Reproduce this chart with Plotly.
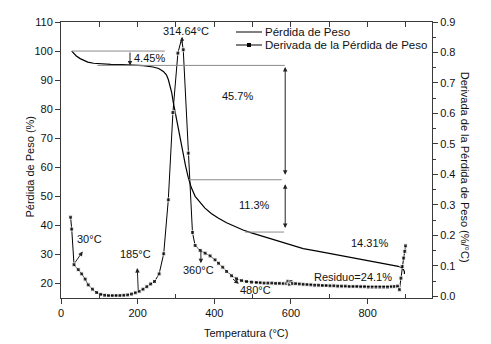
import plotly.graph_objects as go

# ---------------- data ----------------
temp_w = [28, 32, 40, 50, 60, 70, 85, 100, 130, 160, 190, 215, 240, 255, 267, 275, 280, 285,
          289, 293, 300, 306, 312, 319, 325, 332, 340, 350, 362, 375, 392, 410, 432, 454, 475,
          497, 520, 541, 562, 584, 608, 632, 665, 700, 750, 800, 850, 880, 889, 894, 896, 896]
peso = [100.0, 99.3, 98.3, 97.4, 96.7, 96.2, 95.8, 95.6, 95.4, 95.3, 95.2, 95.0, 94.5, 94.0,
        93.0, 91.8, 90.2, 88.0, 85.6, 82.3, 77.5, 73.0, 68.7, 64.0, 60.5, 56.5, 53.0, 50.0,
        47.9, 46.0, 44.1, 42.5, 40.9, 39.6, 38.4, 37.4, 36.5, 35.6, 34.8, 33.9, 33.0, 32.0,
        31.2, 30.3, 29.1, 27.9, 26.7, 25.9, 25.3, 24.7, 24.0, 23.3]

temp_d = [25, 28, 34, 45, 54, 63, 71, 82, 93, 104, 114, 124, 134, 144, 154, 164, 174, 184,
          194, 204, 214, 224, 234, 244, 256, 268, 280, 292, 305, 314.64, 319, 332, 343, 350,
          363, 376, 389, 402, 411, 422, 432, 445, 458, 471, 484, 497, 510, 520, 530, 540, 550,
          560, 570, 580, 588, 592, 596, 600, 604, 612, 622, 632, 642, 652, 662, 672, 682, 692,
          702, 712, 722, 732, 742, 752, 762, 772, 782, 792, 802, 812, 822, 832, 842, 852, 862,
          870, 878, 883, 887, 890, 894, 897, 899]
derivada = [0.260, 0.221, 0.104, 0.088, 0.074, 0.057, 0.038, 0.024, 0.013, 0.007, 0.004,
            0.003, 0.003, 0.003, 0.003, 0.004, 0.005, 0.008, 0.012, 0.017, 0.024, 0.032,
            0.041, 0.049, 0.074, 0.140, 0.317, 0.603, 0.798, 0.845, 0.809, 0.470, 0.210,
            0.167, 0.151, 0.142, 0.133, 0.120, 0.109, 0.096, 0.082, 0.068, 0.058, 0.052,
            0.049, 0.047, 0.046, 0.045, 0.044, 0.044, 0.044, 0.043, 0.043, 0.042, 0.043,
            0.050, 0.040, 0.049, 0.042, 0.042, 0.041, 0.040, 0.039, 0.038, 0.037, 0.037,
            0.036, 0.036, 0.035, 0.035, 0.034, 0.034, 0.034, 0.033, 0.033, 0.033, 0.032,
            0.032, 0.031, 0.031, 0.031, 0.031, 0.031, 0.031, 0.032, 0.033, 0.034, 0.022,
            0.060, 0.098, 0.126, 0.148, 0.166]

x_ticks = [0, 200, 400, 600, 800]
y_left_ticks = [20, 30, 40, 50, 60, 70, 80, 90, 100, 110]
y_right_ticks = [0.0, 0.1, 0.2, 0.3, 0.4, 0.5, 0.6, 0.7, 0.8, 0.9]

serie_peso = "Pérdida de Peso"
serie_deriv = "Derivada de la Pérdida de Peso"

FONT = "Arial, Liberation Sans, sans-serif"
AX = "#3a3a3a"

fig = go.Figure()
fig.add_trace(go.Scatter(x=temp_w, y=peso, mode="lines", name=serie_peso,
                         line=dict(color="black", width=1.2), showlegend=False))
msize = [0 if t == 314.64 else 4 for t in temp_d]
fig.add_trace(go.Scatter(x=temp_d, y=derivada, mode="lines+markers", name=serie_deriv,
                         yaxis="y2", line=dict(color="black", width=1),
                         marker=dict(symbol="square", size=msize, color="black"),
                         showlegend=False))
# dummy trace on top x axis so it is drawn
fig.add_trace(go.Scatter(x=[None], y=[None], xaxis="x2", showlegend=False))

fig.update_layout(
    width=491, height=344,
    margin=dict(l=61, r=59, t=22, b=46),
    paper_bgcolor="white", plot_bgcolor="white",
    font=dict(family=FONT, size=11, color="#111"),
    xaxis=dict(range=[0, 968], tickvals=x_ticks, ticks="outside", ticklen=5,
               tickcolor=AX, showline=True, linecolor=AX, linewidth=1, showgrid=False,
               zeroline=False, tickfont=dict(size=11),
               minor=dict(tickvals=[100, 300, 500, 700, 900], ticks="inside", ticklen=4,
                          tickcolor=AX, showgrid=False)),
    xaxis2=dict(range=[0, 968], overlaying="x", side="top",
                tickvals=[100, 200, 300, 400, 500, 600, 700, 800, 900],
                ticks="inside", ticklen=5, tickcolor=AX, showticklabels=False,
                showline=True, linecolor=AX, linewidth=1, showgrid=False, zeroline=False),
    yaxis=dict(range=[15, 110], tickvals=y_left_ticks, ticks="outside", ticklen=5,
               tickcolor=AX, showline=True, linecolor=AX, linewidth=1, showgrid=False,
               zeroline=False, tickfont=dict(size=11)),
    yaxis2=dict(range=[-0.005, 0.9], overlaying="y", side="right", tickvals=y_right_ticks,
                tickformat=".1f", ticks="outside", ticklen=5, tickcolor=AX, showline=True,
                linecolor=AX, linewidth=1, showgrid=False, zeroline=False,
                tickfont=dict(size=11),
                minor=dict(dtick=0.05, ticks="outside", ticklen=3, tickcolor=AX, showgrid=False)),
    showlegend=False,
)

# reference horizontal lines
GRAY = "#8a8a8a"
for x0, x1, yv in [(28, 271, 100.0), (95, 584, 95.06), (333, 576, 55.7), (480, 582, 37.7)]:
    fig.add_shape(type="line", xref="x", yref="y", x0=x0, x1=x1, y0=yv, y1=yv,
                  line=dict(color=GRAY, width=1))

def arrow(tip, tail, both=False, size=0.9):
    fig.add_annotation(x=tip[0], y=tip[1], ax=tail[0], ay=tail[1], xref="x", yref="y",
                       axref="x", ayref="y", text="", showarrow=True, arrowhead=2,
                       arrowsize=size, arrowwidth=1, arrowcolor="#222",
                       arrowside="end+start" if both else "end", startarrowhead=2,
                       startarrowsize=size)

arrow((316, 104.9), (316, 102.2), size=0.8)
arrow((180, 95.06), (180, 100.0))
arrow((56.6, 31.0), (34, 26.7))
arrow((199, 25.3), (201.6, 17.3))
arrow((365, 27.0), (365, 32.2))
arrow((464, 19.9), (445, 21.9))
arrow((585, 57.4), (585, 95.06), both=True)
arrow((585, 39.1), (585, 54.7), both=True)

labels = [("314.64°C", 325, 106.8), ("4.45%", 232, 97.6), ("45.7%", 461, 84.4),
          ("11.3%", 505, 47.1), ("14.31%", 807, 34.1), ("Residuo=24.1%", 762, 22.4),
          ("30°C", 73.5, 35.3), ("185°C", 195, 30.1), ("360°C", 359.5, 24.5),
          ("480°C", 507, 17.85)]
for t, xv, yv in labels:
    fig.add_annotation(x=xv, y=yv, xref="x", yref="y", text=t, showarrow=False,
                       font=dict(size=11, family=FONT, color="#111"),
                       xanchor="center", yanchor="middle")

def px2p(px, py):
    return (px - 61) / 371.0, (298 - py) / 276.0

# axis titles
x, y = px2p(246.3, 332.7)
fig.add_annotation(x=x, y=y, xref="paper", yref="paper", text="Temperatura (°C)",
                   showarrow=False, font=dict(size=11), xanchor="center", yanchor="middle")
x, y = px2p(29, 166.5)
fig.add_annotation(x=x, y=y, xref="paper", yref="paper", text="Pérdida de Peso (%)",
                   showarrow=False, textangle=-90, font=dict(size=11),
                   xanchor="center", yanchor="middle")
x, y = px2p(465, 166.7)
fig.add_annotation(x=x, y=y, xref="paper", yref="paper",
                   text="Derivada de la Pérdida de Peso (%/°C)",
                   showarrow=False, textangle=90, font=dict(size=11),
                   xanchor="center", yanchor="middle")

# manual legend
for py, name, mk in [(32, serie_peso, False), (45, serie_deriv, True)]:
    x0, yy = px2p(236, py)
    x1, _ = px2p(262, py)
    fig.add_shape(type="line", xref="paper", yref="paper", x0=x0, x1=x1, y0=yy, y1=yy,
                  line=dict(color="black", width=1))
    if mk:
        a, b = px2p(247, py - 2)
        c, d = px2p(251, py + 2)
        fig.add_shape(type="rect", xref="paper", yref="paper", x0=a, x1=c, y0=d, y1=b,
                      fillcolor="black", line=dict(width=0))
    tx, _ = px2p(263, py)
    fig.add_annotation(x=tx, y=yy, xref="paper", yref="paper", text=name, showarrow=False,
                       font=dict(size=11.5), xanchor="left", yanchor="middle")

fig.write_html("out.html", config={"displayModeBar": False},
               post_script="document.body.style.margin='0px';")
